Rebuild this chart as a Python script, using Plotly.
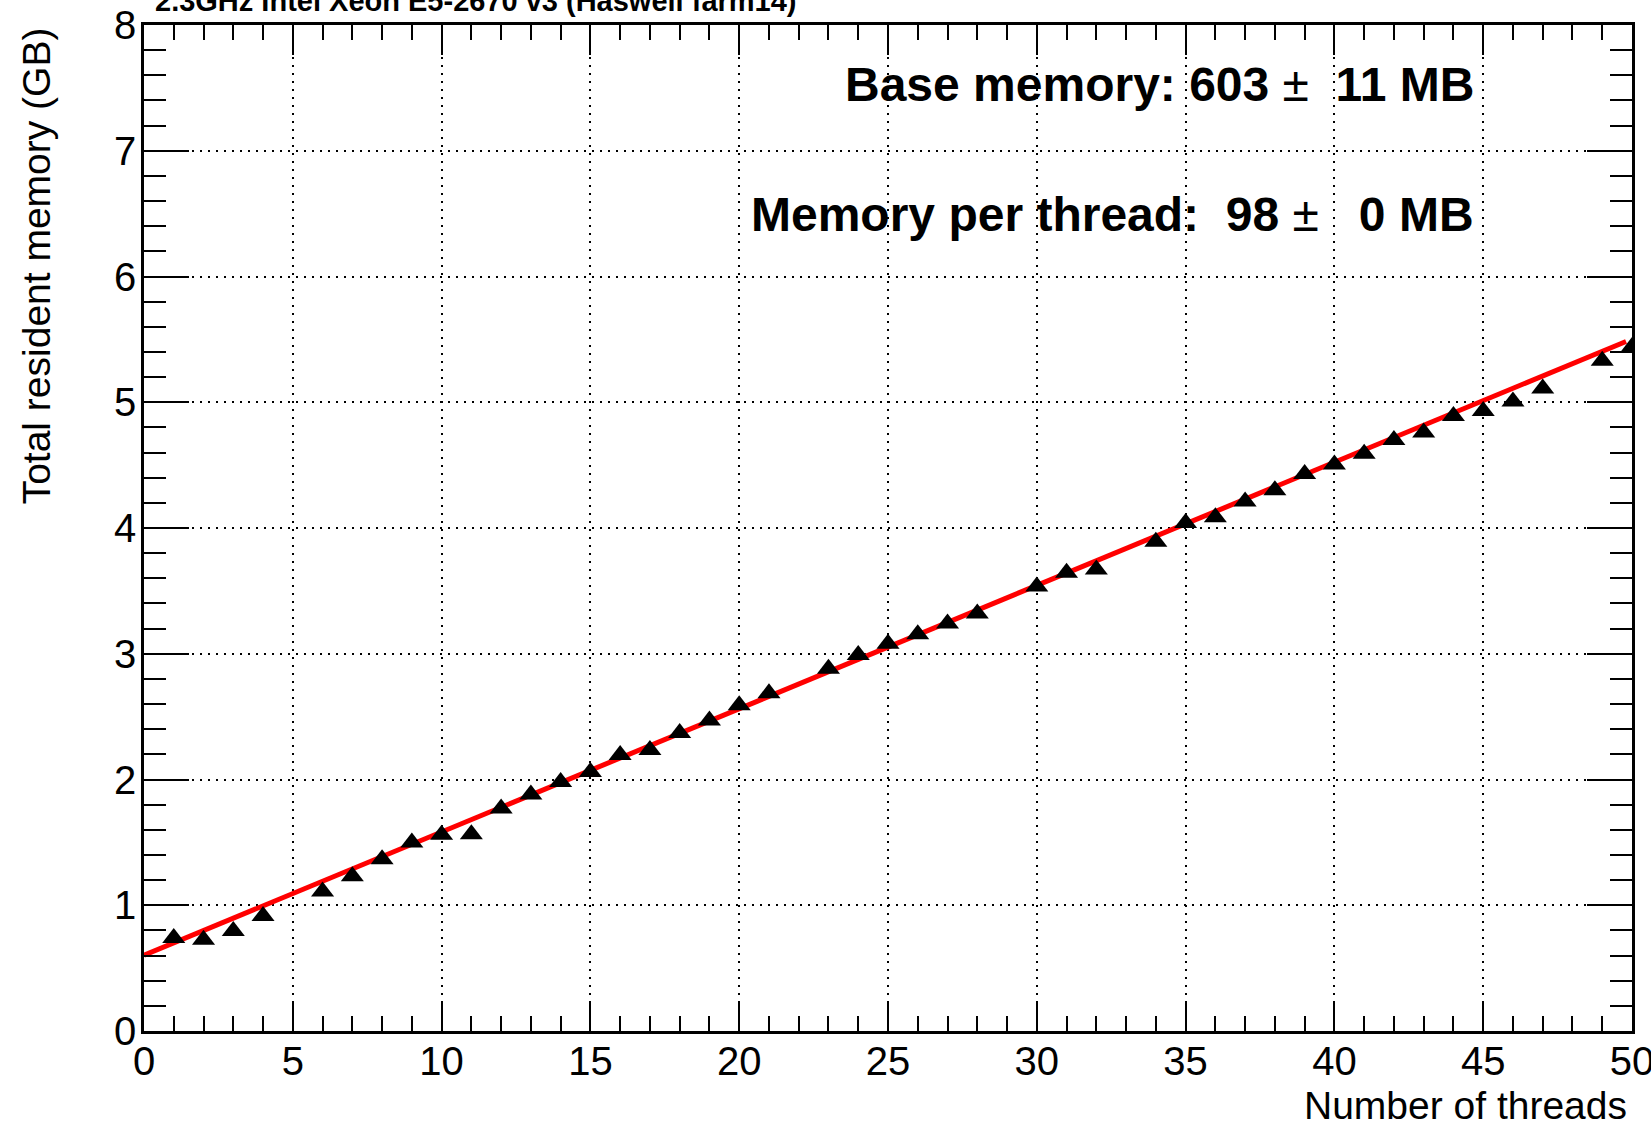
import plotly.graph_objects as go

# Data
threads = [1, 2, 3, 4, 6, 7, 8, 9, 10, 11, 12, 13, 14, 15, 16, 17, 18, 19, 20, 21,
           23, 24, 25, 26, 27, 28, 30, 31, 32, 34, 35, 36, 37, 38, 39, 40, 41, 42,
           43, 44, 45, 46, 47, 49, 50]
memory_gb = [0.74, 0.725, 0.795, 0.915, 1.11, 1.23, 1.365, 1.50, 1.56, 1.565, 1.77, 1.88,
             1.98, 2.06, 2.195, 2.235, 2.37, 2.47, 2.59, 2.685, 2.88, 2.99, 3.08, 3.155,
             3.24, 3.32, 3.535, 3.645, 3.67, 3.89, 4.04, 4.085, 4.21, 4.30, 4.43, 4.505,
             4.59, 4.70, 4.76, 4.89, 4.93, 5.005, 5.11, 5.33, 5.44]

# Linear fit parameters (MB)
base_mb = 603
base_err_mb = 11
per_thread_mb = 98
per_thread_err_mb = 0
fit_x = [0, 49.8]
fit_y = [(base_mb + per_thread_mb * x) / 1000.0 for x in fit_x]

title_text = "2.3GHz Intel Xeon E5-2670 v3 (Haswell farm14)"
x_title = "Number of threads"
y_title = "Total resident memory (GB)"

FONT = "Liberation Sans, Arial, Helvetica, sans-serif"
NB = "\u00a0"

fig = go.Figure()
fig.add_trace(go.Scatter(x=fit_x, y=fit_y, mode="lines",
                         line=dict(color="#ff0000", width=5), showlegend=False))
fig.add_trace(go.Scatter(x=threads, y=memory_gb, mode="markers",
                         marker=dict(symbol="triangle-up", size=20, color="black"),
                         showlegend=False))

axis_common = dict(
    showline=True, linecolor="black", linewidth=2.5, mirror="allticks",
    ticks="inside", tickcolor="black", tickwidth=2,
    showgrid=True, gridcolor="black", gridwidth=2, griddash="2px,6px",
    zeroline=False, automargin=False, ticklabeloverflow="allow",
    tickfont=dict(family=FONT, size=40, color="black"),
)

fig.update_xaxes(range=[0, 50], dtick=5, tick0=0, ticklen=30,
                 minor=dict(dtick=1, ticklen=15, ticks="inside", tickcolor="black",
                            tickwidth=2, showgrid=False),
                 ticklabelstandoff=-7,
                 **axis_common)
fig.update_yaxes(range=[0, 8], dtick=1, tick0=0, ticklen=45,
                 minor=dict(dtick=0.2, ticklen=22, ticks="inside", tickcolor="black",
                            tickwidth=2, showgrid=False),
                 ticklabelstandoff=-3,
                 **axis_common)

annotations = [
    dict(text=f"<b>Base memory: {base_mb}</b> ± <b>{NB}{base_err_mb} MB</b>",
         xref="paper", yref="paper", x=0.895, y=0.941, xanchor="right", yanchor="middle",
         showarrow=False, font=dict(family=FONT, size=48, color="black")),
    dict(text=f"<b>Memory per thread:{NB}{NB}{per_thread_mb}</b> ± <b>{NB}{NB}{per_thread_err_mb} MB</b>",
         xref="paper", yref="paper", x=0.895, y=0.812, xanchor="right", yanchor="middle",
         showarrow=False, font=dict(family=FONT, size=48, color="black")),
    dict(text=f"<b>{title_text}</b>", xref="paper", yref="paper", x=0.006, y=1,
         xanchor="left", yanchor="bottom", yshift=6, showarrow=False,
         font=dict(family=FONT, size=29, color="black")),
    dict(text=x_title, xref="paper", yref="paper", x=0.998, y=-0.0736,
         xanchor="right", yanchor="middle", showarrow=False,
         font=dict(family=FONT, size=39, color="black")),
    dict(text=y_title, xref="paper", yref="paper", x=-0.072, y=1.0,
         xanchor="center", yanchor="top", textangle=-90, showarrow=False,
         font=dict(family=FONT, size=39, color="black")),
]

fig.update_layout(
    template="none",
    width=1651, height=1122,
    margin=dict(l=144, r=19, t=25, b=91),
    paper_bgcolor="white", plot_bgcolor="white",
    annotations=annotations,
    font=dict(family=FONT),
)

fig.write_html("out.html")
